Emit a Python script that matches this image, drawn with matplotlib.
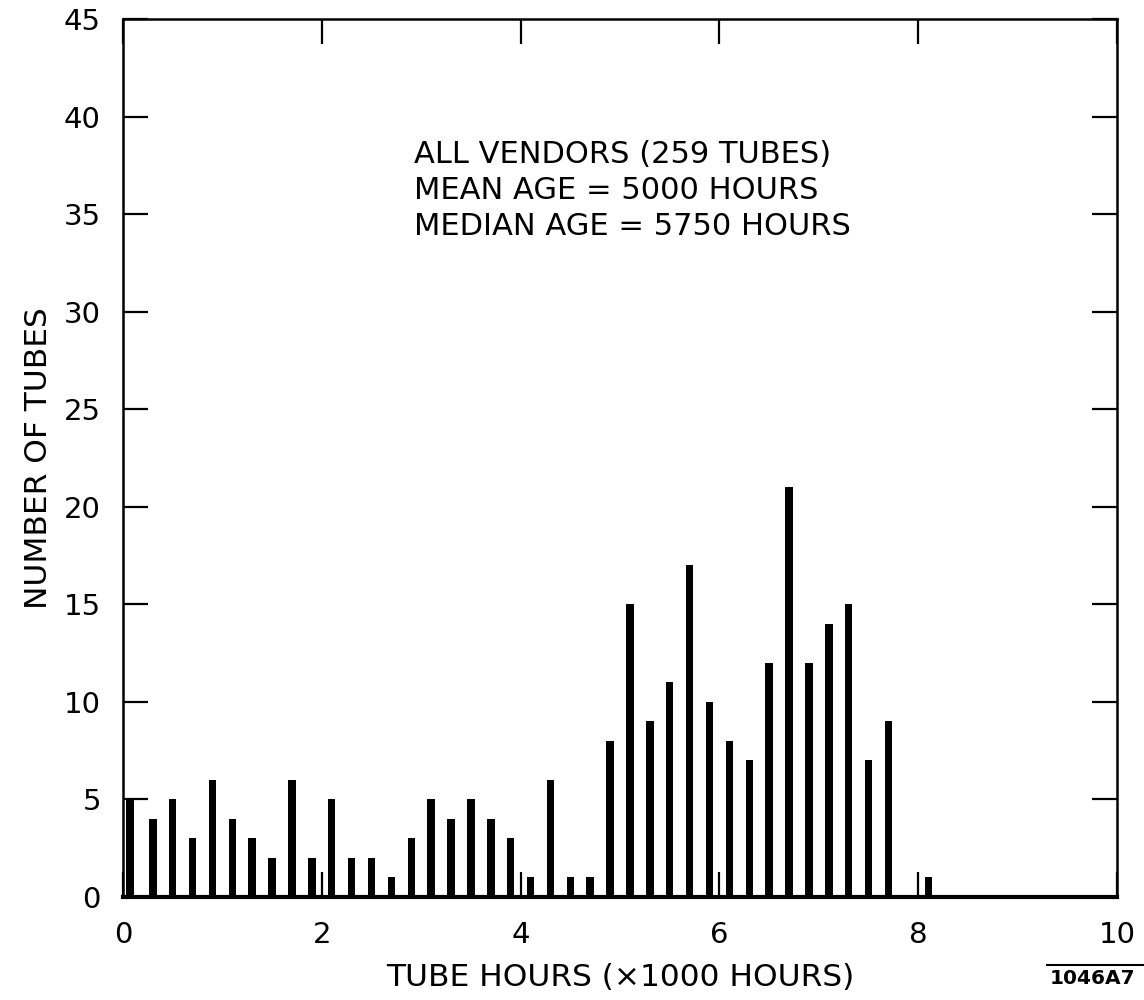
import matplotlib
matplotlib.use("Agg")
import matplotlib.pyplot as plt

# tube age histogram, 200-hour bins (x in thousands of hours)
bin_centers = [0.07, 0.3, 0.5, 0.7, 0.9, 1.1, 1.3, 1.5, 1.7, 1.9,
               2.1, 2.3, 2.5, 2.7, 2.9, 3.1, 3.3, 3.5, 3.7, 3.9,
               4.1, 4.3, 4.5, 4.7, 4.9, 5.1, 5.3, 5.5, 5.7, 5.9,
               6.1, 6.3, 6.5, 6.7, 6.9, 7.1, 7.3, 7.5, 7.7, 8.1]
tube_counts = [5, 4, 5, 3, 6, 4, 3, 2, 6, 2,
               5, 2, 2, 1, 3, 5, 4, 5, 4, 3,
               1, 6, 1, 1, 8, 15, 9, 11, 17, 10,
               8, 7, 12, 21, 12, 14, 15, 7, 9, 1]

x_ticks = [0, 2, 4, 6, 8, 10]
y_ticks = [0, 5, 10, 15, 20, 25, 30, 35, 40, 45]

notes = ["ALL VENDORS (259 TUBES)",
         "MEAN AGE = 5000 HOURS",
         "MEDIAN AGE = 5750 HOURS"]

plt.rcParams['font.family'] = ['DejaVu Sans']

fig = plt.figure(figsize=(11.44, 10), dpi=100)
ax = fig.add_axes([0.1075, 0.103, 0.869, 0.878])

ax.bar(bin_centers, tube_counts, width=0.075, color="black", linewidth=0)

ax.set_xlim(0, 10)
ax.set_ylim(0, 45)
ax.set_xticks(x_ticks)
ax.set_yticks(y_ticks)
ax.set_xticklabels(["0", "2", "4", "6", "8", "10"])

ax.tick_params(direction="in", length=18, width=1.6, top=True, right=True,
               labelsize=21)
ax.tick_params(axis="x", pad=17)
ax.tick_params(axis="y", pad=16)

for side, sp in ax.spines.items():
    sp.set_linewidth(1.8)
ax.spines["bottom"].set_linewidth(3)

ax.set_xlabel("TUBE HOURS (\u00d71000 HOURS)", fontsize=22.5, labelpad=10)
ax.set_ylabel("NUMBER OF TUBES", fontsize=22.5, labelpad=8)

for i, line in enumerate(notes):
    ax.text(2.93, 38.05 - i * 1.83, line, fontsize=22, ha="left", va="center")

# drawing number in the corner, with a rule above it
fig.text(0.955, 0.021, "1046A7", fontsize=14.5, fontweight="bold", ha="center", va="center")
fig.add_artist(plt.Line2D([0.915, 0.999], [0.035, 0.035], color="black", linewidth=1.5))

fig.savefig("out.png", dpi=100)
